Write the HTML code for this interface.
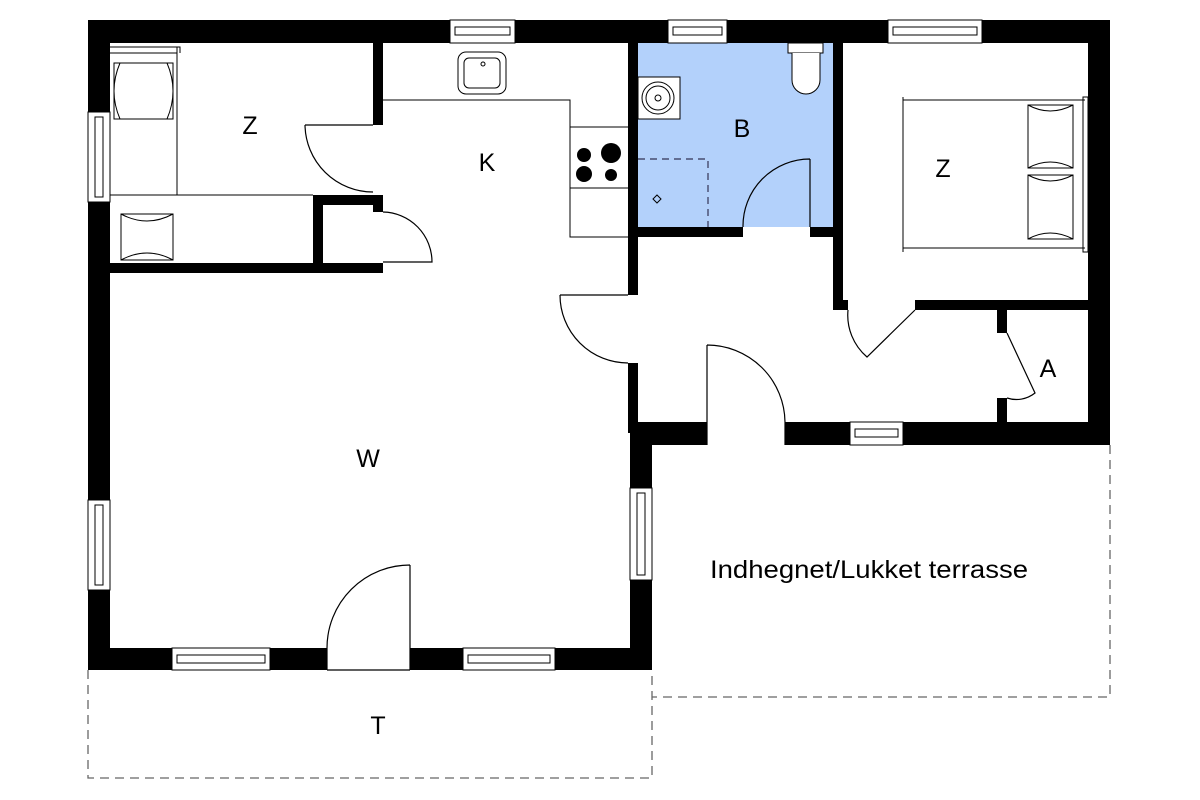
<!DOCTYPE html>
<html><head><meta charset="utf-8"><style>body{margin:0;background:#fff}svg{display:block}</style></head>
<body>
<svg width="1200" height="800" viewBox="0 0 1200 800" xmlns="http://www.w3.org/2000/svg" font-family="Liberation Sans, sans-serif">
<rect width="1200" height="800" fill="#fff"/>
<rect x="638" y="43" width="195" height="184" fill="#b3d1fb"/>
<g fill="none" stroke="#666" stroke-width="1.3" stroke-dasharray="9,6">
<path d="M88 670 V778 H652 V670"/>
<path d="M1110 445 V697 H652"/>
</g>
<g fill="#000">
<rect x="88" y="20" width="1022" height="23"/>
<rect x="88" y="20" width="22" height="650"/>
<rect x="1088" y="20" width="22" height="425"/>
<rect x="630" y="422" width="480" height="23"/>
<rect x="630" y="422" width="22" height="248"/>
<rect x="88" y="648" width="564" height="22"/>
<rect x="373" y="43" width="10" height="82"/>
<rect x="110" y="263" width="273" height="10"/>
<rect x="313" y="195" width="70" height="10"/>
<rect x="313" y="195" width="10" height="75"/>
<rect x="373" y="195" width="10" height="17"/>
<rect x="628" y="43" width="10" height="252"/>
<rect x="628" y="363" width="10" height="70"/>
<rect x="638" y="227" width="105" height="10"/>
<rect x="810" y="227" width="33" height="10"/>
<rect x="833" y="43" width="10" height="267"/>
<rect x="843" y="300" width="5" height="10"/>
<rect x="915" y="300" width="173" height="10"/>
<rect x="997" y="310" width="10" height="23"/>
<rect x="997" y="398" width="10" height="24"/>
</g>
<g fill="#fff" stroke="#000" stroke-width="1">
<rect x="450" y="20" width="65" height="23"/><rect x="455" y="27" width="55" height="8"/>
<rect x="668" y="20" width="59" height="23"/><rect x="673" y="27" width="49" height="8"/>
<rect x="888" y="20" width="94" height="23"/><rect x="893" y="27" width="84" height="8"/>
<rect x="88" y="112" width="22" height="90"/><rect x="95" y="117" width="8" height="80"/>
<rect x="88" y="500" width="22" height="90"/><rect x="95" y="505" width="8" height="80"/>
<rect x="630" y="488" width="22" height="92"/><rect x="637" y="493" width="8" height="82"/>
<rect x="172" y="648" width="98" height="22"/><rect x="177" y="655" width="88" height="8"/>
<rect x="463" y="648" width="92" height="22"/><rect x="468" y="655" width="82" height="8"/>
<rect x="850" y="422" width="53" height="23"/><rect x="855" y="429" width="43" height="8"/>
<rect x="327" y="648" width="83" height="22" stroke="none"/>
<rect x="707" y="422" width="78" height="23" stroke="none"/>
</g>
<g fill="none" stroke="#000" stroke-width="1.2">
<path d="M327 670 V648 M410 670 V565 M327 648 A83 83 0 0 1 410 565 M327 670 H410"/>
<path d="M707 445 V345 M707 345 A78 78 0 0 1 785 422 V445"/>
<path d="M305 125 H373 M305 125 A68 68 0 0 0 373 192"/>
<path d="M383 212 A50 50 0 0 1 432 262 H383"/>
<path d="M560 295 H628 M560 295 A68 68 0 0 0 628 363"/>
<path d="M810 227 V159 M810 159 A67 67 0 0 0 743 227"/>
<path d="M848 310 A55 55 0 0 0 867 357 L915 310"/>
<path d="M1007 333 L1035 393 A30 30 0 0 1 1007 398"/>
</g>
<path d="M638 159 H708 V227" fill="none" stroke="#335" stroke-width="1.2" stroke-dasharray="7,5"/>
<path d="M657 195 L661 199 L657 203 L653 199 Z" fill="none" stroke="#000"/>
<rect x="638" y="77" width="42" height="42" fill="#fff" stroke="#000"/>
<circle cx="658" cy="98" r="16" fill="none" stroke="#000"/><circle cx="658" cy="98" r="12" fill="none" stroke="#000"/><circle cx="658" cy="98" r="3" fill="none" stroke="#000"/>
<rect x="788" y="43" width="35" height="10" fill="#fff" stroke="#000"/>
<path d="M792 53 V80 A14 14 0 0 0 820 80 V53" fill="#fff" stroke="#000"/>
<path d="M383 100 H570 V237 H628 M570 127 H628 M570 188 H628" fill="none" stroke="#000"/>
<rect x="458" y="52" width="48" height="42" rx="8" fill="none" stroke="#000"/>
<rect x="464" y="58" width="36" height="30" rx="5" fill="none" stroke="#000"/>
<circle cx="483" cy="64" r="2" fill="none" stroke="#000"/>
<circle cx="584" cy="155" r="7"/><circle cx="611" cy="153" r="10"/><circle cx="584" cy="174" r="8"/><circle cx="611" cy="175" r="6"/>
<g fill="none" stroke="#000" stroke-width="1">
<path d="M110 47 H180 V53 M177 47 V195 M110 195 H313 M110 53 H177"/>
<rect x="114" y="63" width="59" height="56"/>
<path d="M120 63 Q108 91 120 119 M167 63 Q179 91 167 119"/>
<rect x="121" y="214" width="52" height="46"/>
<path d="M121 214 Q147 228 173 214 M121 260 Q147 246 173 260"/>
<path d="M903 97 V252 M903 100 H1085 M903 248 H1085"/>
<rect x="1083" y="97" width="5" height="155"/>
<rect x="1028" y="105" width="45" height="63"/>
<rect x="1028" y="175" width="45" height="64"/>
<path d="M1028 105 Q1050 117 1073 105 M1028 168 Q1050 156 1073 168 M1028 175 Q1050 187 1073 175 M1028 239 Q1050 227 1073 239"/>
</g>
<g font-size="25" fill="#000" text-anchor="middle">
<text x="250" y="134">Z</text>
<text x="487" y="171">K</text>
<text x="742" y="137">B</text>
<text x="943" y="177">Z</text>
<text x="1048" y="377">A</text>
<text x="368" y="467">W</text>
<text x="378" y="734">T</text>
<text x="869" y="578" textLength="318" lengthAdjust="spacingAndGlyphs">Indhegnet/Lukket terrasse</text>
</g>
</svg>
</body></html>
